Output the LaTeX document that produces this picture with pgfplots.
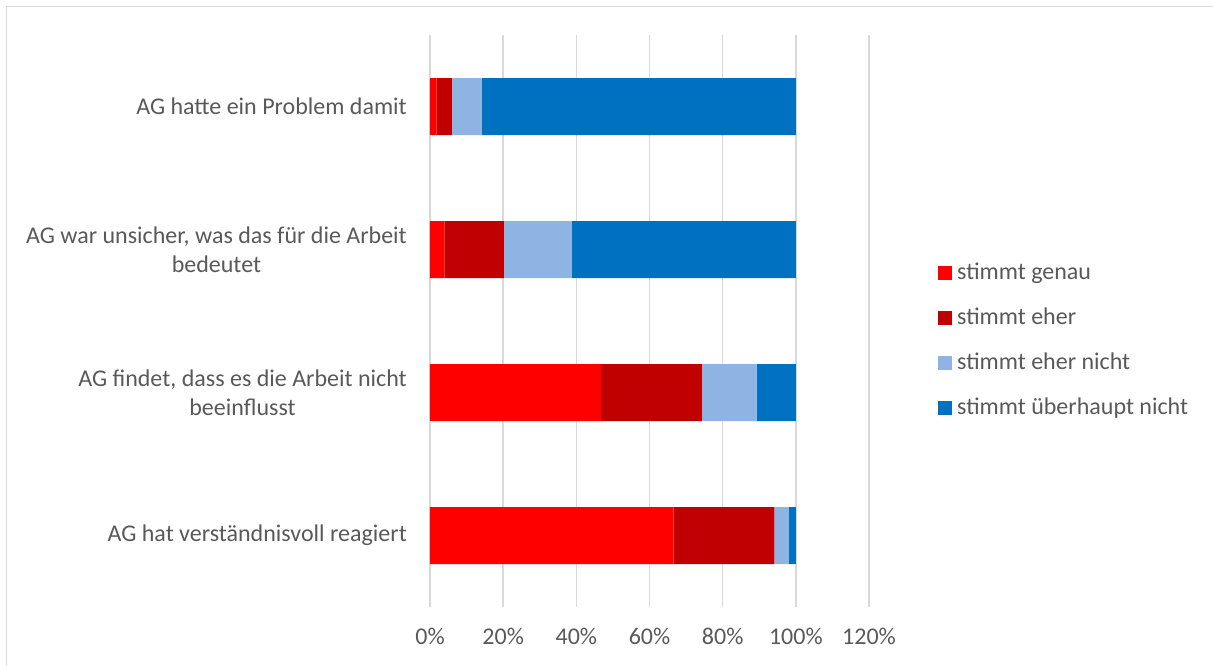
\documentclass[border=0pt]{standalone}
\usepackage{pgfplots}
\pgfplotsset{compat=1.18}
\usepackage{pgfplotstable}
\usepackage{fontspec}
\setmainfont{Carlito}

\definecolor{cGenau}{HTML}{FF0000}
\definecolor{cEher}{HTML}{C00000}
\definecolor{cEherNicht}{HTML}{8FB4E3}
\definecolor{cNicht}{HTML}{0070C0}
\definecolor{txt}{HTML}{595959}
\definecolor{gridc}{HTML}{D9D9D9}

% share of answers in percent, rows from top to bottom
\pgfplotstableread{
row genau eher ehernicht nicht
0   1.8   4.2  8.2  85.8
1   3.9   16.3 18.6 61.2
2   46.8  27.5 15.0 10.7
3   66.6  27.5 4.0  1.9
}\data

\begin{document}
\fontsize{24}{29}\selectfont
\begin{tikzpicture}[x=1pt,y=1pt]
\useasboundingbox (0,0) rectangle (1213,666);
\draw[gridc, line width=1.5pt] (6.5,0) -- (6.5,659.5) -- (1213,659.5);
\begin{axis}[
  at={(430pt,59pt)}, anchor=south west,
  scale only axis, width=439pt, height=572pt,
  xbar stacked, bar width=57pt,
  xmin=0, xmax=120,
  ymin=-0.5, ymax=3.5, y dir=reverse,
  xtick={0,20,40,60,80,100,120},
  xticklabels={0\%,20\%,40\%,60\%,80\%,100\%,120\%},
  ytick={0,1,2,3},
  yticklabels={{AG hatte ein Problem damit},
    {AG war unsicher, was das für die Arbeit\\bedeutet},
    {AG findet, dass es die Arbeit nicht\\beeinflusst},
    {AG hat verständnisvoll reagiert}},
  yticklabel style={align=center, text=txt, font=\fontsize{24}{29}\selectfont, xshift=-15pt},
  xticklabel style={text=txt, font=\fontsize{24}{29}\selectfont, yshift=-13pt},
  /pgf/number format/assume math mode=true,
  axis line style={draw=none},
  major tick length=0pt,
  xmajorgrids, ymajorgrids=false,
  major grid style={draw=gridc, line width=1.5pt},
  legend style={at={(rel axis cs:1.1572,0.466)}, anchor=west, draw=none,
    fill=none, text=txt, font=\fontsize{24}{29}\selectfont, row sep=25pt,
    inner sep=0pt, nodes={inner sep=0pt}},
  legend cell align=left,
  legend image code/.code={\fill[#1] (0pt,-7pt) rectangle (14pt,7pt);
    \path (19pt,0pt);},
]
\addplot[fill=cGenau, draw=none] table[x=genau, y=row] {\data};
\addplot[fill=cEher, draw=none] table[x=eher, y=row] {\data};
\addplot[fill=cEherNicht, draw=none] table[x=ehernicht, y=row] {\data};
\addplot[fill=cNicht, draw=none] table[x=nicht, y=row] {\data};
\legend{stimmt genau, stimmt eher, stimmt eher nicht, stimmt überhaupt nicht}
\end{axis}
\end{tikzpicture}
\end{document}
